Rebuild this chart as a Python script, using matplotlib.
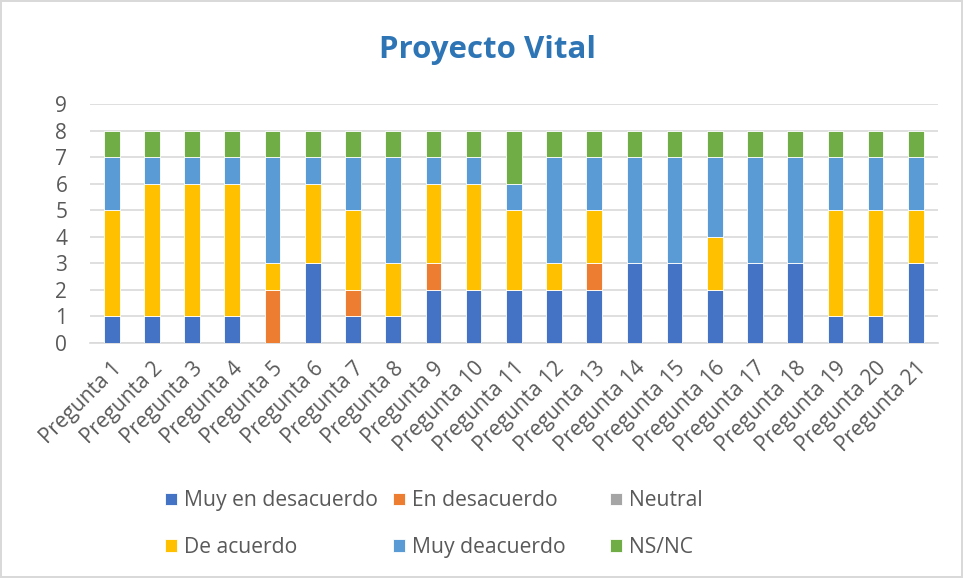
import matplotlib.pyplot as plt
import numpy as np

# --- Datos ---
preguntas = [f'Pregunta {i}' for i in range(1, 22)]
muy_desacuerdo = [1, 1, 1, 1, 0, 3, 1, 1, 2, 2, 2, 2, 2, 3, 3, 2, 3, 3, 1, 1, 3]
en_desacuerdo  = [0, 0, 0, 0, 2, 0, 1, 0, 1, 0, 0, 0, 1, 0, 0, 0, 0, 0, 0, 0, 0]
neutral        = [0] * 21
de_acuerdo     = [4, 5, 5, 5, 1, 3, 3, 2, 3, 4, 3, 1, 2, 0, 0, 2, 0, 0, 4, 4, 2]
muy_deacuerdo  = [2, 1, 1, 1, 4, 1, 2, 4, 1, 1, 1, 4, 2, 4, 4, 3, 4, 4, 2, 2, 2]
ns_nc          = [1, 1, 1, 1, 1, 1, 1, 1, 1, 1, 2, 1, 1, 1, 1, 1, 1, 1, 1, 1, 1]

series = [
    ('Muy en desacuerdo', muy_desacuerdo, '#4472C4'),
    ('En desacuerdo', en_desacuerdo, '#ED7D31'),
    ('Neutral', neutral, '#A5A5A5'),
    ('De acuerdo', de_acuerdo, '#FFC000'),
    ('Muy deacuerdo', muy_deacuerdo, '#5B9BD5'),
    ('NS/NC', ns_nc, '#70AD47'),
]

plt.rcParams['font.family'] = ['Open Sans', 'DejaVu Sans']
gris = '#595959'

fig = plt.figure(figsize=(9.63, 5.78), dpi=100)
fig.patch.set_edgecolor('#D9D9D9')
fig.patch.set_linewidth(1.5)
ax = fig.add_axes([0.093, 0.407, 0.881, 0.413])

x = np.arange(len(preguntas))
base = np.zeros(len(preguntas))
handles = {}
for nombre, vals, color in series:
    vals = np.array(vals, dtype=float)
    b = ax.bar(x, vals, 0.39, bottom=base, color=color, label=nombre,
               edgecolor='white', linewidth=0.6, zorder=3)
    handles[nombre] = b
    base += vals

ax.set_ylim(0, 9)
ax.set_xlim(-0.55, len(preguntas) - 0.45)
ax.set_yticks(range(0, 10))
ax.yaxis.grid(True, color='#D9D9D9', linewidth=1.2, zorder=0)
ax.set_axisbelow(True)
for s in ['top', 'right', 'left']:
    ax.spines[s].set_visible(False)
ax.spines['bottom'].set_color('#D9D9D9')
ax.spines['bottom'].set_linewidth(1.2)
ax.tick_params(axis='y', length=0, labelsize=15, labelcolor=gris, pad=16)
ax.tick_params(axis='x', length=0, labelsize=15, labelcolor=gris, pad=11)
ax.set_xticks(x)
ax.set_xticklabels(preguntas, rotation=45, ha='right', rotation_mode='anchor')

fig.text(0.506, 0.913, 'Proyecto Vital', ha='center', va='center',
         fontsize=22.5, fontweight='bold', color='#2E75B6')

# leyenda: tres columnas de igual ancho, como en Excel
columnas = [['Muy en desacuerdo', 'De acuerdo'],
            ['En desacuerdo', 'Muy deacuerdo'],
            ['Neutral', 'NS/NC']]
col_x = [165 / 963, 393 / 963, 610 / 963]
for cx, nombres in zip(col_x, columnas):
    fig.legend([handles[n] for n in nombres], nombres, loc='center left',
               bbox_to_anchor=(cx, 1 - 524 / 578), frameon=False,
               fontsize=15.2, labelcolor=gris, handlelength=0.55,
               handleheight=0.55, handletextpad=0.35, labelspacing=1.2,
               borderpad=0, borderaxespad=0)

fig.savefig('out.png', dpi=100)
